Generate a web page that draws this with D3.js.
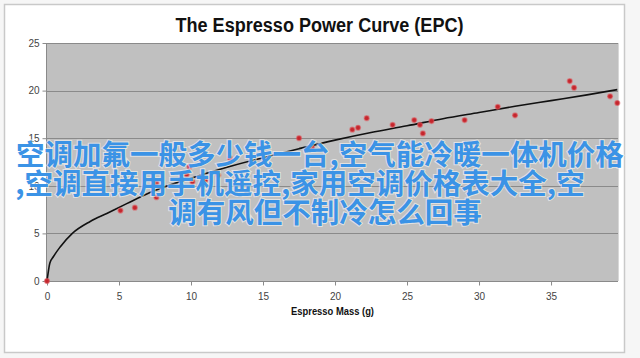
<!DOCTYPE html>
<html>
<head>
<meta charset="utf-8">
<script src="https://cdn.jsdelivr.net/npm/d3@7"></script>
<style>
  html, body { margin: 0; padding: 0; background: #fff; }
  svg { display: block; }
</style>
</head>
<body>
<svg id="chart" width="640" height="358"></svg>
<script>
// ---- data ----
const title = "The Espresso Power Curve (EPC)";
const xTitle = "Espresso Mass (g)";
const xTicks = [0, 5, 10, 15, 20, 25, 30, 35];
const yTicks = [0, 5, 10, 15, 20, 25];
const pointX = [0, 5.1, 6.1, 7.6, 7.6, 9.7, 9.9, 10.1, 11.0, 11.9, 12.7, 17.5, 18.4, 21.2, 21.6, 22.2, 24.0, 25.5, 25.9, 26.1, 26.7, 29.0, 31.3, 32.5, 36.3, 36.6, 39.1, 39.6];
const pointY = [0, 7.4, 7.7, 8.8, 10.3, 11.2, 12.0, 10.4, 10.6, 11.1, 12.9, 15.0, 14.0, 15.9, 16.1, 17.1, 16.4, 16.9, 16.4, 15.5, 16.8, 16.9, 18.3, 17.4, 21.0, 20.3, 19.4, 18.7];
const curveX = [0, 0.2, 0.44, 0.9, 1.76, 3.0, 4.15, 5.5, 7.15, 10, 12.5, 15, 17.5, 20, 22.5, 25, 27.5, 30, 32.5, 35, 37.5, 39.6];
const curveY = [0, 1.9, 2.55, 3.55, 5.0, 6.25, 7.1, 8.1, 9.3, 10.8, 11.95, 12.95, 13.9, 14.8, 15.6, 16.3, 17.05, 17.7, 18.35, 18.95, 19.55, 20.1];
const overlayLines = [
  "空调加氟一般多少钱一台,空气能冷暖一体机价格",
  ",空调直接用手机遥控,家用空调价格表大全,空",
  "调有风但不制冷怎么回事"
];

// ---- drawing ----
const svg = d3.select("#chart");
const W = 640, H = 358;
const plot = { left: 47, right: 618, top: 43, bottom: 281 };

svg.append("rect").attr("x", 0).attr("y", 0).attr("width", W).attr("height", H).attr("fill", "#f6f6f6");
svg.append("rect").attr("x", 4.5).attr("y", 4.5).attr("width", 620).attr("height", 348)
  .attr("fill", "#fff").attr("stroke", "#c9c9c9").attr("stroke-width", 1.5);

const x = d3.scaleLinear().domain([0, 39.65]).range([plot.left, plot.right]);
const y = d3.scaleLinear().domain([0, 25]).range([plot.bottom, plot.top]);

// plot background
svg.append("rect").attr("x", plot.left).attr("y", plot.top)
  .attr("width", plot.right - plot.left).attr("height", plot.bottom - plot.top)
  .attr("fill", "#c0c0c0");

// gridlines
svg.append("g").selectAll("line").data(yTicks.filter(d => d > 0)).join("line")
  .attr("x1", plot.left).attr("x2", plot.right)
  .attr("y1", d => Math.round(y(d)) + 0.5).attr("y2", d => Math.round(y(d)) + 0.5)
  .attr("stroke", "#8a8a8a").attr("stroke-width", 1);

// right edge of plot
svg.append("line").attr("x1", plot.right + 0.5).attr("x2", plot.right + 0.5)
  .attr("y1", plot.top).attr("y2", plot.bottom).attr("stroke", "#d8d8d8");

// axes
const font = "'Liberation Sans', Arial, sans-serif";
const xAxis = d3.axisBottom(x).tickValues(xTicks).tickSize(4).tickPadding(7).tickFormat(d3.format("d"));
const yAxis = d3.axisLeft(y).tickValues(yTicks).tickSize(4).tickPadding(3).tickFormat(d3.format("d"));

const gx = svg.append("g").attr("transform", `translate(0,${plot.bottom + 0.5})`).call(xAxis);
const gy = svg.append("g").attr("transform", `translate(${plot.left - 0.5},0)`).call(yAxis);
[gx, gy].forEach(g => {
  g.selectAll("path").attr("stroke", "#8a8a8a");
  g.selectAll("line").attr("stroke", "#8a8a8a");
  g.selectAll("text").attr("font-family", font).attr("font-size", 10).attr("fill", "#444");
});
gx.select(".domain").attr("d", `M${plot.left},0H${plot.right}`);
gy.select(".domain").attr("d", `M0,${plot.top}V${plot.bottom}`);

// curve
const line = d3.line().x(d => x(d[0])).y(d => y(d[1])).curve(d3.curveMonotoneX);
svg.append("path").datum(curveX.map((v, i) => [v, curveY[i]]))
  .attr("d", line).attr("fill", "none").attr("stroke", "#111").attr("stroke-width", 1.6);

// points
svg.append("g").selectAll("circle").data(pointX.map((v, i) => [v, pointY[i]])).join("circle")
  .attr("cx", d => x(d[0])).attr("cy", d => y(d[1])).attr("r", 2.4)
  .attr("fill", "#c4262d").attr("stroke", "rgba(220,90,95,0.55)").attr("stroke-width", 1.4);

// titles
svg.append("text").attr("x", 175.5).attr("y", 31.5)
  .attr("font-family", font).attr("font-weight", "bold").attr("font-size", 20)
  .attr("textLength", 288).attr("lengthAdjust", "spacingAndGlyphs")
  .attr("fill", "#111").text(title);
svg.append("text").attr("x", 291).attr("y", 315)
  .attr("font-family", font).attr("font-weight", "bold").attr("font-size", 10)
  .attr("textLength", 83).attr("lengthAdjust", "spacingAndGlyphs")
  .attr("fill", "#111").text(xTitle);

// overlay text
const ov = svg.append("g");
const lineY = [165, 194, 223];
const lineX = [320, 300, 325];
overlayLines.forEach((t, i) => {
  ov.append("text").attr("x", lineX[i]).attr("y", lineY[i]).attr("text-anchor", "middle")
    .attr("font-family", "'Noto Sans CJK SC', sans-serif").attr("font-weight", "bold")
    .attr("font-size", 28.5).attr("fill", "#3b93e6")
    .attr("stroke", "rgba(255,255,255,0.55)").attr("stroke-width", 2).attr("paint-order", "stroke")
    .text(t);
});
</script>
</body>
</html>
